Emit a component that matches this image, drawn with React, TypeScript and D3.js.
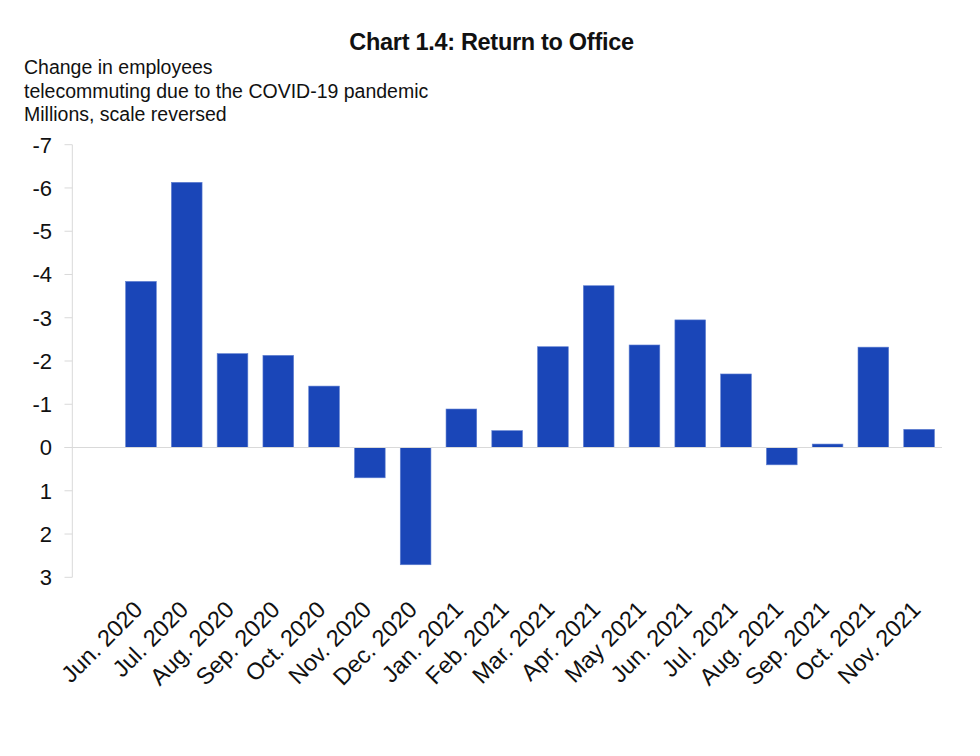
import React from "react";
import * as d3 from "d3";

const categories: string[] = [
  "Jun. 2020", "Jul. 2020", "Aug. 2020", "Sep. 2020", "Oct. 2020", "Nov. 2020",
  "Dec. 2020", "Jan. 2021", "Feb. 2021", "Mar. 2021", "Apr. 2021", "May 2021",
  "Jun. 2021", "Jul. 2021", "Aug. 2021", "Sep. 2021", "Oct. 2021", "Nov. 2021",
];
const values: number[] = [
  -3.84, -6.13, -2.17, -2.13, -1.42, 0.7, 2.71, -0.89, -0.39, -2.33, -3.74, -2.37,
  -2.95, -1.7, 0.4, -0.08, -2.32, -0.42,
];
const yTicks: number[] = [-7, -6, -5, -4, -3, -2, -1, 0, 1, 2, 3];
const titleText = "Chart 1.4: Return to Office";
const subtitleLines: string[] = [
  "Change in employees",
  "telecommuting due to the COVID-19 pandemic",
  "Millions, scale reversed",
];

const W = 980;
const H = 756;
const axisX = 72.3;
const plotRight = 942;
const yTop = 144.7;
const yBottom = 577.3;

export default function App() {
  const y = d3.scaleLinear().domain([-7, 3]).range([yTop, yBottom]);
  const step = (plotRight - axisX) / (categories.length + 1);
  const x = d3
    .scaleBand<string>()
    .domain(categories)
    .range([axisX + step, plotRight])
    .paddingInner(0.33)
    .paddingOuter(0.165);
  const font = "'Liberation Sans', Arial, sans-serif";
  const grey = "#d9d9d9";
  return (
    <svg
      width={W}
      height={H}
      style={{ position: "absolute", left: 0, top: 0, background: "#fff" }}
      fontFamily={font}
    >
      <text x={491.5} y={49.5} textAnchor="middle" fontSize={23.5} fontWeight="bold" fill="#111" letterSpacing={-0.3}>
        {titleText}
      </text>
      {subtitleLines.map((s, i) => (
        <text key={i} x={24} y={74 + i * 23.5} fontSize={19.5} fill="#111">
          {s}
        </text>
      ))}
      {/* y axis */}
      <line x1={axisX} x2={axisX} y1={y(-7)} y2={y(3)} stroke={grey} strokeWidth={1} />
      {yTicks.map((t) => (
        <g key={t}>
          <line x1={64.5} x2={axisX} y1={y(t)} y2={y(t)} stroke={grey} strokeWidth={1} />
          <text x={52} y={y(t)} dy="0.36em" textAnchor="end" fontSize={22} fill="#111">
            {String(t)}
          </text>
        </g>
      ))}
      {/* bars */}
      {categories.map((c, i) => {
        const v = values[i];
        const y0 = y(Math.min(0, v));
        const y1 = y(Math.max(0, v));
        return (
          <rect
            key={c}
            x={x(c)}
            y={y0}
            width={x.bandwidth()}
            height={Math.max(0, y1 - y0)}
            fill="#1A46B8"
            stroke="#5f7fd0"
            strokeWidth={0.6}
          />
        );
      })}
      {/* zero line */}
      <line x1={64.5} x2={plotRight} y1={y(0)} y2={y(0)} stroke={grey} strokeWidth={1.2} />
      {/* x labels */}
      {categories.map((c) => {
        const cx = (x(c) as number) + x.bandwidth() / 2;
        const lx = cx + 3;
        const ly = 611;
        return (
          <text
            key={c}
            x={lx}
            y={ly}
            textAnchor="end"
            fontSize={23.5}
            fill="#111"
            transform={`rotate(-45, ${lx}, ${ly})`}
          >
            {c}
          </text>
        );
      })}
    </svg>
  );
}
